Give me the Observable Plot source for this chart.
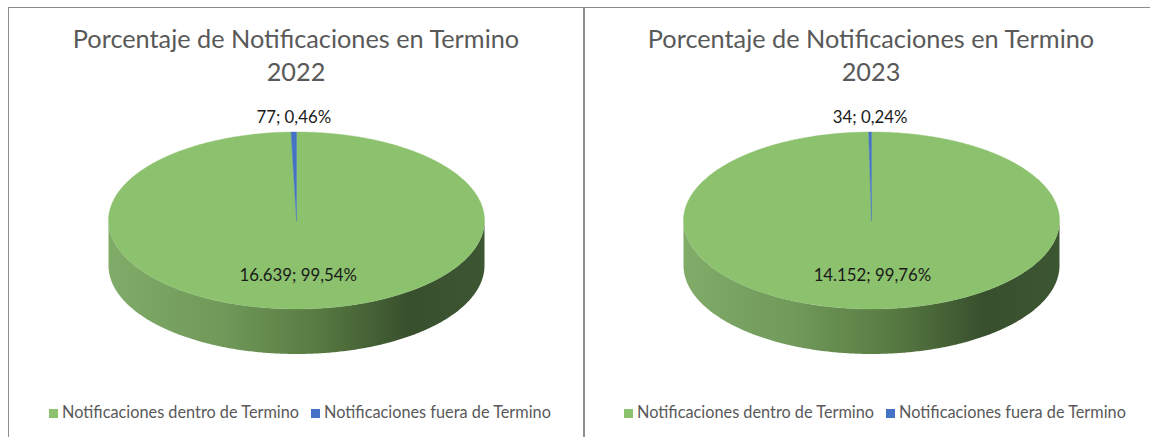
<!DOCTYPE html>
<html><head><meta charset="utf-8">
<script src="https://cdn.jsdelivr.net/npm/d3@7"></script>
<script src="https://cdn.jsdelivr.net/npm/@observablehq/plot@0.6"></script>
<style>
body{margin:0;background:#fff;font-family:Lato,"Open Sans",sans-serif;}
#wrap{position:relative;width:1150px;height:437px;overflow:hidden;background:#fff}
.line{position:absolute;background:#8c8c8c}
.title{position:absolute;text-align:center;color:#595959;font-size:25.3px;line-height:33px;white-space:nowrap}
.legend{position:absolute;text-align:center;color:#595959;font-size:16.3px;line-height:20px;white-space:nowrap}
.legend .sw{display:inline-block;width:9px;height:9px;margin-right:4px;vertical-align:0px}
.legend .it{margin-right:12px}
.plot{position:absolute}
</style></head>
<body><div id="wrap"></div>
<script>
const titleText = "Porcentaje de Notificaciones en Termino";
const years = ["2022", "2023"];
const categories = ["Notificaciones dentro de Termino", "Notificaciones fuera de Termino"];
const values2022 = [16639, 77];
const values2023 = [14152, 34];
const colors = ["#8CC16E", "#4472C4"];

const wrap = document.getElementById("wrap");
function addLine(l, t, w, h) {
  const d = document.createElement("div");
  d.className = "line";
  Object.assign(d.style, {left: l + "px", top: t + "px", width: w + "px", height: h + "px"});
  wrap.appendChild(d);
}
addLine(8, 7, 1142, 1);
addLine(8, 7, 1, 430);
addLine(583, 7, 2, 430);

const fmtInt = v => d3.format(",")(v).replace(/,/g, ".");
const fmtPct = p => d3.format(".2f")(p * 100).replace(".", ",") + "%";

const rx = 188, ry = 88.5, depth = 45;
const W = 576, H = 270;
function pt(a, r = 1) { return [rx * r * Math.sin(a), -ry * r * Math.cos(a)]; }

function drawPanel(idx, year, values, left, legendShift) {
  const t = document.createElement("div");
  t.className = "title";
  Object.assign(t.style, {left: left + "px", width: W + "px", top: "22px"});
  t.innerHTML = titleText + "<br>" + year;
  wrap.appendChild(t);

  const total = d3.sum(values);
  const arcs = d3.pie().sort(null).startAngle(0).endAngle(2 * Math.PI)(values);
  const topRows = [], sideRows = [], labels = [];
  arcs.forEach((arc, i) => {
    const cat = categories[i];
    const n = Math.max(2, Math.ceil((arc.endAngle - arc.startAngle) / 0.01));
    topRows.push({cat, x: 0, y: 0});
    for (let k = 0; k <= n; k++) {
      const a = arc.startAngle + (arc.endAngle - arc.startAngle) * k / n;
      const [x, y] = pt(a);
      topRows.push({cat, x, y});
    }
    topRows.push({cat, x: 0, y: 0});
    const a0 = Math.max(arc.startAngle, Math.PI / 2), a1 = Math.min(arc.endAngle, 3 * Math.PI / 2);
    if (a1 > a0) {
      const m = Math.max(2, Math.ceil((a1 - a0) / 0.01));
      for (let k = 0; k <= m; k++) {
        const a = a0 + (a1 - a0) * k / m; const [x, y] = pt(a);
        sideRows.push({cat, x, y});
      }
      for (let k = m; k >= 0; k--) {
        const a = a0 + (a1 - a0) * k / m; const [x, y] = pt(a);
        sideRows.push({cat, x, y: y + depth});
      }
    }
    const frac = arc.value / total;
    const mid = (arc.startAngle + arc.endAngle) / 2;
    let lx, ly;
    if (frac < 0.05) { const [x, y] = pt(mid); lx = x; ly = y - 14.5; }
    else { [lx, ly] = pt(mid, 0.62); }
    labels.push({x: lx, y: ly, text: fmtInt(arc.value) + "; " + fmtPct(frac)});
  });

  const gradId = "sideGrad" + idx;
  const svg = Plot.plot({
    width: W, height: H,
    margin: 0,
    x: {domain: [-W / 2, W / 2], range: [0, W], axis: null},
    y: {domain: [-120, H - 120], range: [0, H], axis: null},
    color: {domain: categories, range: colors},
    style: {background: "transparent", fontFamily: "Lato, 'Open Sans', sans-serif"},
    marks: [
      Plot.line(sideRows, {x: "x", y: "y", z: "cat", fill: `url(#${gradId})`, stroke: "none", curve: "linear"}),
      Plot.line(topRows, {x: "x", y: "y", z: "cat", fill: "cat", stroke: "cat", strokeWidth: 0.4, curve: "linear"}),
      Plot.text(labels, {x: "x", y: "y", text: "text", fontSize: 16.8, fill: "#1a1a1a", textAnchor: "middle", lineAnchor: "middle"})
    ]
  });
  const defs = d3.select(svg).insert("defs", ":first-child");
  const g = defs.append("linearGradient").attr("id", gradId)
    .attr("gradientUnits", "userSpaceOnUse")
    .attr("x1", W / 2 - rx).attr("x2", W / 2 + rx).attr("y1", 0).attr("y2", 0);
  [[0, "#80AB68"], [0.3, "#70995A"], [0.55, "#587B42"], [0.8, "#384F2D"], [1, "#3D5632"]]
    .forEach(([o, c]) => g.append("stop").attr("offset", o).attr("stop-color", c));
  svg.classList.add("plot");
  svg.style.left = left + "px";
  svg.style.top = "100px";
  svg.style.position = "absolute";
  wrap.appendChild(svg);

  const lg = document.createElement("div");
  lg.className = "legend";
  Object.assign(lg.style, {left: (left + legendShift) + "px", width: W + "px", top: "402px"});
  lg.innerHTML = categories.map((c, i) =>
    `<span class="it"><span class="sw" style="background:${colors[i]}"></span>${c}</span>`).join("");
  wrap.appendChild(lg);
}

drawPanel(0, years[0], values2022, 8, 10);
drawPanel(1, years[1], values2023, 583, 10);
</script>
</body></html>
